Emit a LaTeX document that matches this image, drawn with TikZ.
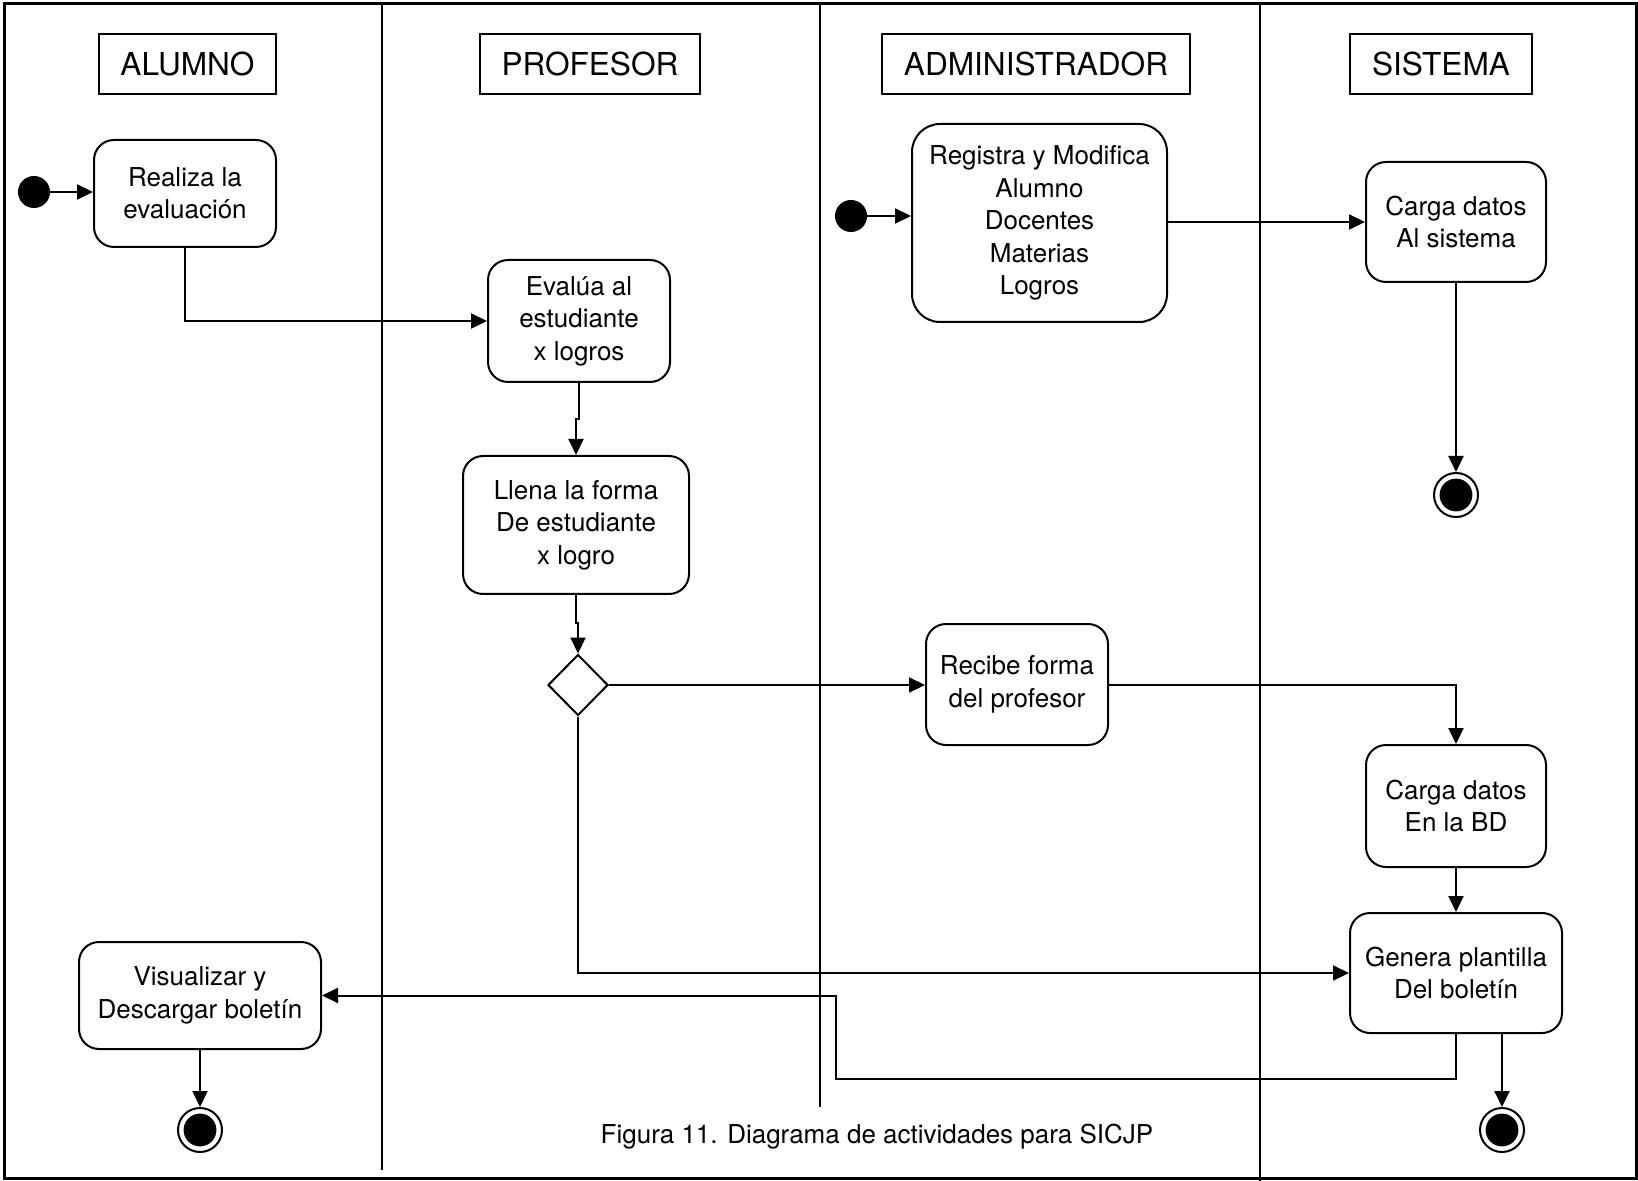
\documentclass[tikz,border=0pt]{standalone}
\usepackage{fontspec}
\setmainfont{TeX Gyre Heros}
\usetikzlibrary{arrows.meta,shapes.geometric}

\begin{document}
\begin{tikzpicture}[
  x=0.5pt, y=-0.5pt,
  body/.style={font=\fontsize{13}{16.2}\selectfont},
  lanehead/.style={draw, line width=1pt, inner sep=0pt, minimum height=30pt,
    font=\fontsize{15.8}{19}\selectfont},
  activity/.style={draw, line width=1pt, rounded corners=10pt, align=center,
    inner sep=0pt, body},
  decision/.style={diamond, draw, line width=1pt, inner sep=0pt, aspect=1,
    minimum width=30pt, minimum height=30.5pt},
  startstate/.style={circle, fill=black, inner sep=0pt, minimum size=16pt},
  endstate/.style={circle, draw, line width=1pt, inner sep=0pt, minimum size=22pt,
    path picture={\fill (path picture bounding box.center) circle (8.2pt);}},
  flow/.style={line width=1pt, -{Triangle[length=8pt,width=7.5pt]}},
  lane/.style={line width=0.8pt},
]
\useasboundingbox (0,0) rectangle (1638,1181);

% frame and swimlane separators
\draw[line width=1.5pt] (4,4) rectangle (1636,1178);
\draw[lane] (382,4) -- (382,1170);
\draw[lane] (820,4) -- (820,1107);
\draw[lane] (1260,4) -- (1260,1181);

% lane titles
\node[lanehead, minimum width=88.5pt] (hAlu) at (187.5,64) {ALUMNO};
\node[lanehead, minimum width=110pt] (hPro) at (590,64) {PROFESOR};
\node[lanehead, minimum width=154pt] (hAdm) at (1036,64) {ADMINISTRADOR};
\node[lanehead, minimum width=91pt] (hSis) at (1441,64) {SISTEMA};

% ALUMNO lane
\node[startstate] (s1) at (34,192) {};
\node[activity, minimum width=91pt, minimum height=53.5pt] (real) at (185,193.5)
  {Realiza la\\evaluación};
\node[activity, minimum width=121pt, minimum height=53.5pt] (vis) at (200,995.5)
  {Visualizar y\\Descargar boletín};
\node[endstate] (e3) at (200,1130) {};

% PROFESOR lane
\node[activity, minimum width=91pt, minimum height=61pt] (ev) at (579,321)
  {Evalúa al\\estudiante\\x logros};
\node[activity, minimum width=113pt, minimum height=69pt] (ll) at (576,525)
  {Llena la forma\\De estudiante\\x logro};
\node[decision] (d) at (578,685) {};

% ADMINISTRADOR lane
\node[startstate] (s2) at (851,216) {};
\node[activity, rounded corners=14pt, minimum width=127.5pt, minimum height=99pt] (reg)
  at (1039.5,223) {Registra y Modifica\\Alumno\\Docentes\\Materias\\Logros};
\node[activity, minimum width=91pt, minimum height=60.5pt] (rec) at (1017,684.5)
  {Recibe forma\\del profesor};

% SISTEMA lane
\node[activity, minimum width=90pt, minimum height=60pt] (cd) at (1456,222)
  {Carga datos\\Al sistema};
\node[endstate] (e1) at (1456,495) {};
\node[activity, minimum width=90pt, minimum height=61pt] (bd) at (1456,806)
  {Carga datos\\En la BD};
\node[activity, minimum width=106pt, minimum height=60pt] (gen) at (1456,973)
  {Genera plantilla\\Del boletín};
\node[endstate] (e2) at (1502,1130) {};

% caption
\node[body, inner sep=0pt] (cap) at (877,1137)
  {Figura 11. Diagrama de actividades para SICJP};

% turning point of the return path to the student
\coordinate (back) at (836,1079);

% control flow
\draw[flow] (s1.east) -- (s1.east -| real.west);
\draw[flow] (real.south) |- (ev.west);
\draw[flow] (ev.south) -- ++(0,36) -| (ll.north);
\draw[flow] (ll.south) -- ++(0,28) -| (d.north);
\draw[flow] (d.east) -- (d.east -| rec.west);
\draw[flow] (rec.east) -| (bd.north);
\draw[flow] (s2.east) -- (s2.east -| reg.west);
\draw[flow] (cd.west -| reg.east) -- (cd.west);
\draw[flow] (cd.south) -- (e1.north);
\draw[flow] (bd.south) -- (gen.north);
\draw[flow] (d.south) |- (gen.west);
\draw[flow] (gen.south) |- (back) |- (vis.east);
\draw[flow] (gen.south -| e2.north) -- (e2.north);
\draw[flow] (vis.south) -- (e3.north);
\end{tikzpicture}
\end{document}
